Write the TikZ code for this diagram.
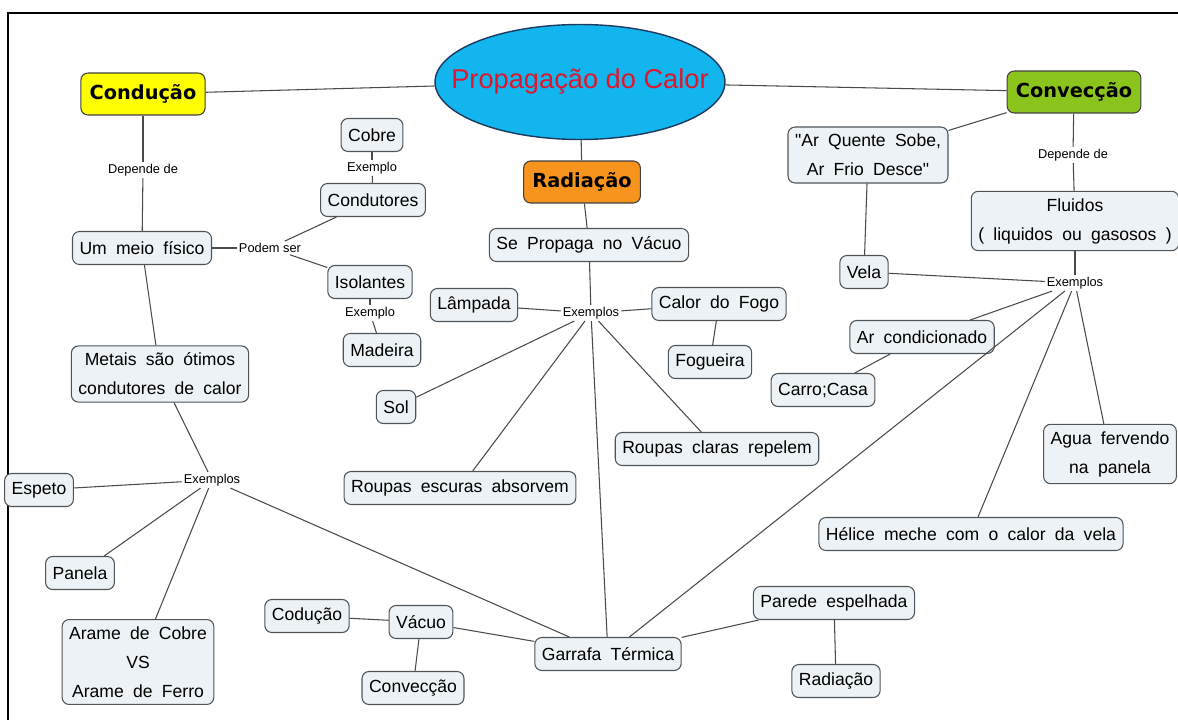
\documentclass[tikz,border=0pt]{standalone}
\usepackage{fontspec}
\setmainfont{Liberation Sans}
\newfontfamily\mapfont{Liberation Sans}[WordSpace=1.9]
\newfontfamily\topicfont{DejaVu Sans}
\usetikzlibrary{shapes.geometric}
\definecolor{boxfill}{HTML}{ECF2F5}
\definecolor{boxline}{HTML}{4F5458}
\definecolor{linkgray}{HTML}{4A4A4A}
\definecolor{sky}{HTML}{12B5EE}
\definecolor{navy}{HTML}{1F3A5F}
\definecolor{titlered}{HTML}{E0162B}
\definecolor{lime}{HTML}{8CC41E}
\definecolor{amber}{HTML}{F7941D}
\definecolor{lemon}{HTML}{FFFF00}
\newcommand\boxfont{\mapfont\fontsize{10}{16.5}\selectfont}
\newcommand\labelfont{\normalfont\fontsize{7.3}{9}\selectfont}
\newcommand\headfont{\normalfont\fontsize{15.5}{18}\selectfont}
\tikzset{box/.style={draw=boxline,line width=0.6pt,fill=boxfill,rounded corners=4pt,align=center,
    minimum height=0.66cm,inner xsep=4pt,inner ysep=4pt,font=\boxfont},
  topic/.style={box,draw=black!75,minimum height=0.84cm,inner xsep=5pt,
    font=\topicfont\bfseries\fontsize{11}{13}\selectfont},
  link/.style={draw=linkgray,line width=0.6pt}}
\begin{document}
\begin{tikzpicture}[x=0.02cm,y=-0.02cm,
  lbl/.style={inner sep=1pt,font=\labelfont},
  headline/.style={ellipse,draw=navy,line width=0.8pt,fill=sky,minimum width=5.8cm,minimum height=2.3cm,
    inner sep=0pt,text=titlered,font=\headfont}]
\useasboundingbox (0,0) rectangle (1178,720);
\draw[line width=1.4pt] (8,720) -- (8,13) -- (1178,13);
\node[headline] (calor) at (580,82) {\makebox[0pt]{Propagação do Calor}};
\node[topic,fill=lemon] (cond) at (143,94) {Condução};
\node[topic,fill=lime] (conv) at (1074,92) {Convecção};
\node[topic,fill=amber] (rad) at (582,182) {Radiação};
\node[lbl] (dep1) at (143,170) {Depende de};
\node[box] (meio) at (142,248) {Um meio físico};
\node[lbl] (podem) at (270,248) {Podem ser};
\node[box] (condut) at (373,200) {Condutores};
\node[lbl] (ex1) at (372,168) {Exemplo};
\node[box] (cobre) at (372,135) {Cobre};
\node[box] (isol) at (370,282) {Isolantes};
\node[lbl] (ex2) at (370,313) {Exemplo};
\node[box] (madeira) at (382,350) {Madeira};
\node[box] (metais) at (160,374) {Metais são ótimos\\condutores de calor};
\node[lbl] (exc) at (212,480) {Exemplos};
\node[box] (espeto) at (39,490) {Espeto};
\node[box] (panela) at (80,573) {Panela};
\node[box] (arame) at (138,662) {Arame de Cobre\\VS\\Arame de Ferro};
\node[box] (vacuo) at (589,245) {Se Propaga no Vácuo};
\node[lbl] (exr) at (591,313) {Exemplos};
\node[box] (lampada) at (474,305) {Lâmpada};
\node[box] (fogo) at (719,304) {Calor do Fogo};
\node[box] (fogueira) at (710,362) {Fogueira};
\node[box] (sol) at (396,407) {Sol};
\node[box] (escuras) at (460,488) {Roupas escuras absorvem};
\node[box] (claras) at (717,449) {Roupas claras repelem};
\node[box] (garrafa) at (608,654) {Garrafa Térmica};
\node[box] (arquente) at (868,155) {"Ar Quente Sobe,\\Ar Frio Desce"};
\node[lbl] (dep2) at (1073,155) {Depende de};
\node[box] (fluidos) at (1075,221) {Fluidos\\( liquidos ou gasosos )};
\node[box] (vela) at (864,272) {Vela};
\node[lbl] (exv) at (1075,283) {Exemplos};
\node[box] (arcond) at (922,337) {Ar condicionado};
\node[box] (carro) at (823,390) {Carro;Casa};
\node[box] (helice) at (971,534) {Hélice meche com o calor da vela};
\node[box] (agua) at (1110,454) {Agua fervendo\\na panela};
\node[box] (vac) at (421,622) {Vácuo};
\node[box] (codu) at (307,616) {Codução};
\node[box] (convb) at (413,688) {Convecção};
\node[box] (parede) at (834,603) {Parede espelhada};
\node[box] (radb) at (836,681) {Radiação};
\foreach \a/\b in {calor/cond,calor/conv,calor/rad,cond/dep1,dep1/meio,meio/podem,podem/condut,podem/isol,
  cobre/ex1,ex1/condut,isol/ex2,ex2/madeira,meio/metais,metais/exc,exc/espeto,exc/panela,exc/arame,exc/garrafa,
  rad/vacuo,vacuo/exr,exr/lampada,exr/fogo,fogo/fogueira,exr/sol,exr/escuras,exr/claras,exr/garrafa,
  conv/arquente,conv/dep2,dep2/fluidos,arquente/vela,fluidos/exv,exv/vela,exv/arcond,arcond/carro,
  exv/garrafa,exv/helice,exv/agua,garrafa/vac,vac/codu,vac/convb,garrafa/parede,parede/radb}
  {\draw[link] (\a) -- (\b);}
\end{tikzpicture}
\end{document}
